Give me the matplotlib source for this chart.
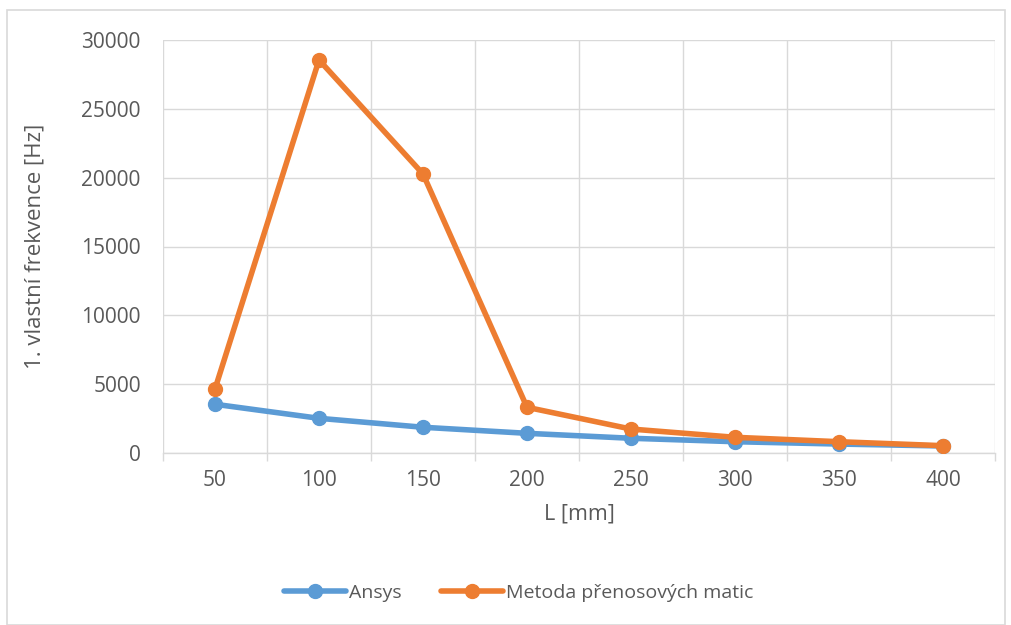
import numpy as np
import matplotlib.pyplot as plt
from matplotlib.patches import Rectangle

lengths = ["50", "100", "150", "200", "250", "300", "350", "400"]
ansys = [3540, 2520, 1870, 1430, 1070, 820, 650, 510]
metoda = [4650, 28550, 20270, 3320, 1740, 1140, 820, 530]

plt.rcParams["font.family"] = ["Open Sans", "DejaVu Sans"]
text_color = "#595959"
grid_color = "#D9D9D9"

fig = plt.figure(figsize=(10.11, 6.25), dpi=100)
ax = fig.add_axes([163 / 1011, 1 - 453 / 625, (995 - 163) / 1011, (453 - 40) / 625])

# outer chart border
fig.add_artist(Rectangle((7 / 1011, 0.0), 998 / 1011, 1 - 10 / 625,
                         transform=fig.transFigure, fill=False,
                         edgecolor=grid_color, linewidth=1.2))

x = np.arange(len(lengths))
ax.plot(x, ansys, color="#5B9BD5", linewidth=4, marker="o", markersize=10,
        label="Ansys", solid_capstyle="round", zorder=3)
ax.plot(x, metoda, color="#ED7D31", linewidth=4, marker="o", markersize=10,
        label="Metoda přenosových matic", solid_capstyle="round", zorder=4)

ax.set_xlim(-0.5, len(lengths) - 0.5)
ax.set_ylim(0, 30000)
ax.set_yticks(np.arange(0, 30001, 5000))
ax.set_xticks(x)
ax.set_xticklabels(lengths)
ax.set_xticks(np.arange(-0.5, len(lengths), 1), minor=True)

ax.grid(axis="y", color=grid_color, linewidth=1)
ax.grid(axis="x", which="minor", color=grid_color, linewidth=1)
ax.set_axisbelow(True)

for s in ["top", "right", "left"]:
    ax.spines[s].set_visible(False)
ax.spines["bottom"].set_color(grid_color)
ax.spines["bottom"].set_linewidth(1)

ax.tick_params(axis="y", length=0, labelsize=15, labelcolor=text_color, pad=16)
ax.tick_params(axis="x", which="major", length=0, labelsize=15,
               labelcolor=text_color, pad=12)
ax.tick_params(axis="x", which="minor", length=6, color=grid_color, width=1)

ax.set_xlabel("L [mm]", fontsize=15.5, color=text_color, labelpad=9)
ax.set_ylabel("1. vlastní frekvence [Hz]", fontsize=16, color=text_color, labelpad=26)

ax.legend(loc="center", bbox_to_anchor=(0.513, 1 - 593 / 625), bbox_transform=fig.transFigure,
          ncol=2, frameon=False, fontsize=14, labelcolor=text_color,
          handlelength=3.2, handletextpad=0.15, columnspacing=2.0)

fig.savefig("out.png", dpi=100)
